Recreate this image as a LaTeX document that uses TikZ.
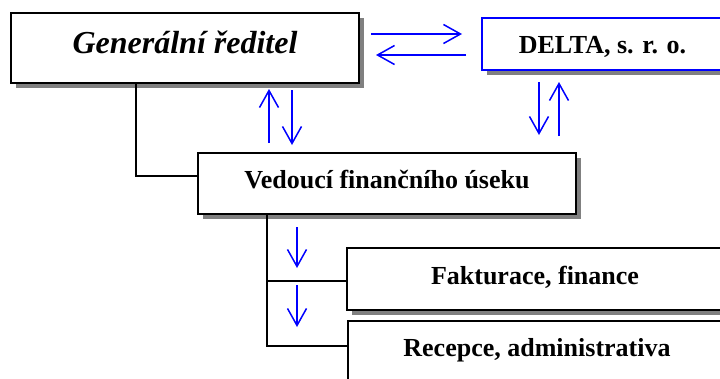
\documentclass[tikz,border=0pt]{standalone}
\usepackage{fontspec}
\setmainfont{Liberation Serif}
\usetikzlibrary{arrows.meta,shadows}

\definecolor{linkblue}{RGB}{0,0,255}
\definecolor{shadowgray}{RGB}{128,128,128}

\tikzset{
  unitbox/.style={draw=black, line width=2pt, fill=white, inner sep=0pt,
    anchor=north west, align=center,
    drop shadow={shadow xshift=5pt, shadow yshift=-5pt, fill=shadowgray, opacity=1}},
  baseshift/.style={text height=#1, text depth=0pt},
  bluebox/.style={draw=linkblue},
  titlefont/.style={font=\fontsize{32}{36}\selectfont\bfseries\itshape},
  unitfont/.style={font=\fontsize{26}{30}\selectfont\bfseries},
  flow/.style={draw=linkblue, line width=1.5pt,
    -{Straight Barb[length=17pt,width=19pt,line width=1.5pt]}},
  tie/.style={draw=black, line width=1.5pt}
}

\begin{document}
\begin{tikzpicture}[x=1pt,y=-1pt]
  \useasboundingbox (0,0) rectangle (720,378);
  \clip (0,0) rectangle (720,378);
  \fill[white] (0,0) rectangle (720,378);

  % organisational units
  \node[unitbox, titlefont, baseshift=10pt, minimum width=348pt, minimum height=70pt]
    (gr) at (10,12) {Generální ředitel};
  \node[unitbox, bluebox, unitfont, baseshift=19pt, minimum width=241pt, minimum height=52pt]
    (delta) at (481,17) {DELTA, s. r. o.};
  \node[unitbox, unitfont, baseshift=9pt, minimum width=378pt, minimum height=61pt]
    (vfu) at (197,152) {Vedoucí finančního úseku};
  \node[unitbox, unitfont, baseshift=10pt, minimum width=376pt, minimum height=62pt]
    (fak) at (346,247) {Fakturace, finance};
  \node[unitbox, unitfont, baseshift=8pt, minimum width=378pt, minimum height=62pt]
    (rec) at (347,320) {Recepce, administrativa};

  % reporting lines
  \coordinate (k1) at (136,176);
  \draw[tie] (gr.south -| k1) |- (vfu.west |- k1);
  \coordinate (k2) at (267,281);
  \coordinate (k3) at (267,346);
  \draw[tie] (vfu.south -| k2) |- (rec.west |- k3);
  \draw[tie] (k2) -- (fak.west |- k2);

  % information flows
  \coordinate (f1a) at (371,34);  \coordinate (f1b) at (462,34);
  \coordinate (f2a) at (466,55);  \coordinate (f2b) at (376,55);
  \coordinate (f3a) at (269,143); \coordinate (f3b) at (269,89);
  \coordinate (f4a) at (292,90);  \coordinate (f4b) at (292,145);
  \coordinate (f5a) at (539,82);  \coordinate (f5b) at (539,135);
  \coordinate (f6a) at (559,136); \coordinate (f6b) at (559,82);
  \coordinate (f7a) at (297,227); \coordinate (f7b) at (297,268);
  \coordinate (f8a) at (297,285); \coordinate (f8b) at (297,327);
  \draw[flow] (f1a) -- (f1b);
  \draw[flow] (f2a) -- (f2b);
  \draw[flow] (f3a) -- (f3b);
  \draw[flow] (f4a) -- (f4b);
  \draw[flow] (f5a) -- (f5b);
  \draw[flow] (f6a) -- (f6b);
  \draw[flow] (f7a) -- (f7b);
  \draw[flow] (f8a) -- (f8b);
\end{tikzpicture}
\end{document}
